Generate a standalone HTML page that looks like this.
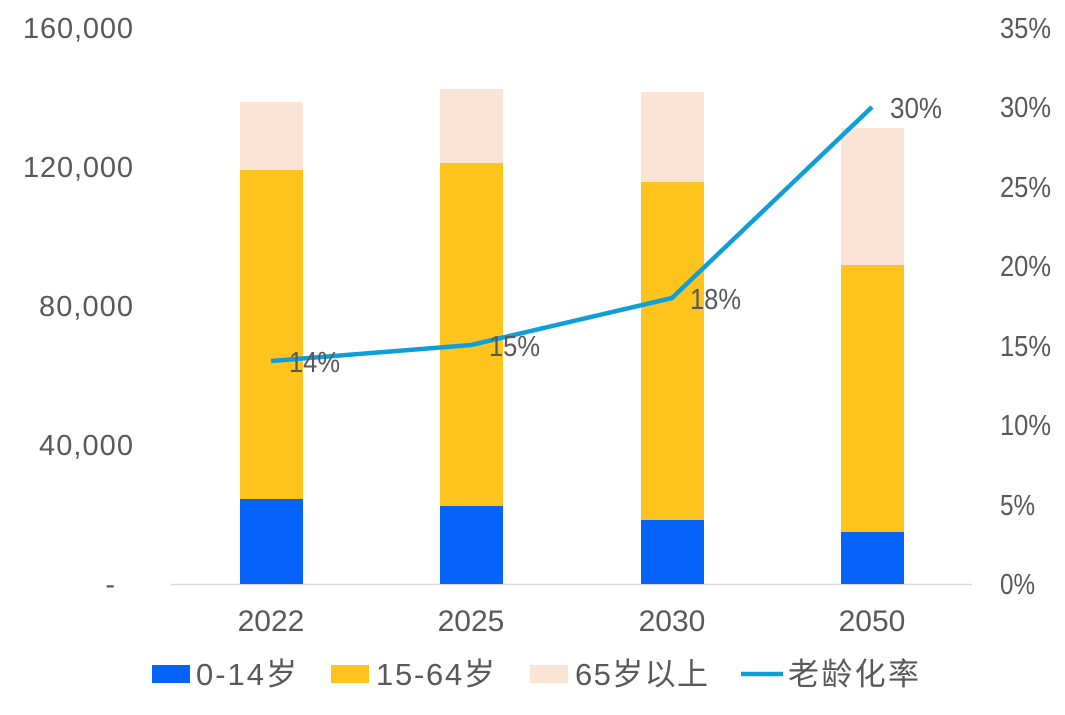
<!DOCTYPE html>
<html><head><meta charset="utf-8"><style>
body{margin:0;background:#fff;}
svg text{font-family:"Liberation Sans","Noto Sans CJK SC",sans-serif;fill:#595959;}
</style></head><body>
<svg width="1065" height="710" viewBox="0 0 1065 710" xmlns="http://www.w3.org/2000/svg">
<g font-size="29" text-anchor="end">
<text x="133" y="38" textLength="110">160,000</text>
<text x="133" y="177" textLength="110">120,000</text>
<text x="133" y="316" textLength="94">80,000</text>
<text x="133" y="455" textLength="94">40,000</text>
<text x="115" y="594">-</text>
</g>
<g font-size="29">
<text x="1000" y="38" textLength="51" lengthAdjust="spacingAndGlyphs">35%</text>
<text x="1000" y="117" textLength="51" lengthAdjust="spacingAndGlyphs">30%</text>
<text x="1000" y="197" textLength="51" lengthAdjust="spacingAndGlyphs">25%</text>
<text x="1000" y="276" textLength="51" lengthAdjust="spacingAndGlyphs">20%</text>
<text x="1000" y="356" textLength="51" lengthAdjust="spacingAndGlyphs">15%</text>
<text x="1000" y="435" textLength="51" lengthAdjust="spacingAndGlyphs">10%</text>
<text x="1000" y="515" textLength="35" lengthAdjust="spacingAndGlyphs">5%</text>
<text x="1000" y="594" textLength="35" lengthAdjust="spacingAndGlyphs">0%</text>
</g>
<line x1="171" y1="584.5" x2="972" y2="584.5" stroke="#d9d9d9" stroke-width="1.5"/>
<g>
<rect x="240" y="102" width="63" height="68" fill="#fbe3d6"/>
<rect x="240" y="170" width="63" height="329" fill="#ffc31d"/>
<rect x="240" y="499" width="63" height="85" fill="#0563fa"/>
<rect x="440" y="89" width="63" height="74" fill="#fbe3d6"/>
<rect x="440" y="163" width="63" height="343" fill="#ffc31d"/>
<rect x="440" y="506" width="63" height="78" fill="#0563fa"/>
<rect x="641" y="92" width="63" height="90" fill="#fbe3d6"/>
<rect x="641" y="182" width="63" height="338" fill="#ffc31d"/>
<rect x="641" y="520" width="63" height="64" fill="#0563fa"/>
<rect x="841" y="128" width="63" height="137" fill="#fbe3d6"/>
<rect x="841" y="265" width="63" height="267" fill="#ffc31d"/>
<rect x="841" y="532" width="63" height="52" fill="#0563fa"/>
</g>
<polyline points="271,361 471,345 672,298 872,107" fill="none" stroke="#0e9fd8" stroke-width="4.5" stroke-linejoin="round"/>
<g font-size="29">
<text x="289" y="372" textLength="51" lengthAdjust="spacingAndGlyphs">14%</text>
<text x="489" y="356" textLength="51" lengthAdjust="spacingAndGlyphs">15%</text>
<text x="690" y="309" textLength="51" lengthAdjust="spacingAndGlyphs">18%</text>
<text x="890" y="118" textLength="52" lengthAdjust="spacingAndGlyphs">30%</text>
</g>
<g font-size="30" text-anchor="middle">
<text x="271" y="631">2022</text>
<text x="471" y="631">2025</text>
<text x="672" y="631">2030</text>
<text x="872" y="631">2050</text>
</g>
<rect x="152" y="665" width="38" height="18" fill="#0563fa"/>
<text x="196" y="685" font-size="31" textLength="101">0-14岁</text>
<rect x="331" y="665" width="38" height="18" fill="#ffc31d"/>
<text x="376" y="685" font-size="31" textLength="119">15-64岁</text>
<rect x="530" y="665" width="38" height="18" fill="#fbe3d6"/>
<text x="575" y="685" font-size="31" textLength="133">65岁以上</text>
<line x1="741" y1="674" x2="783" y2="674" stroke="#0e9fd8" stroke-width="4.5"/>
<text x="788" y="685" font-size="31" textLength="131">老龄化率</text>
</svg>
</body></html>
